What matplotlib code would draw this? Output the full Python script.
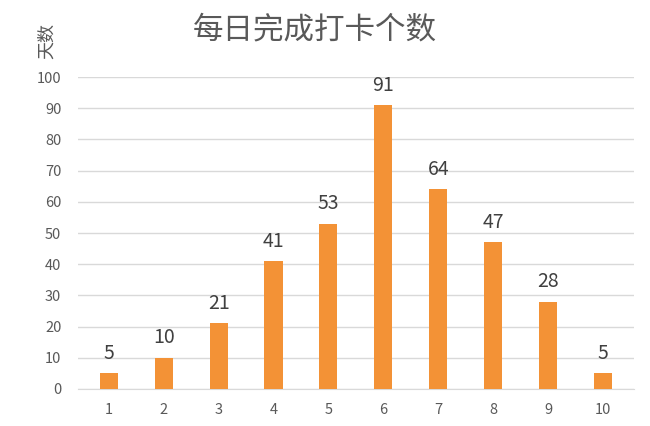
import matplotlib.pyplot as plt

plt.rcParams['font.family'] = ['Noto Sans CJK SC', 'DejaVu Sans']

days = ['1', '2', '3', '4', '5', '6', '7', '8', '9', '10']
counts = [5, 10, 21, 41, 53, 91, 64, 47, 28, 5]
y_ticks = list(range(0, 101, 10))

fig = plt.figure(figsize=(6.5, 4.26), dpi=100)
ax = fig.add_axes([0.12, 0.087, 0.855, 0.732])

x = list(range(1, len(days) + 1))
bars = ax.bar(x, counts, width=0.33, color='#F39236', zorder=3)

for xi, v in zip(x, counts):
    ax.text(xi, v + 3, str(v), ha='center', va='bottom', fontsize=14, color='#404040')

ax.set_xlim(0.44, 10.56)
ax.set_ylim(0, 100)
ax.set_yticks(y_ticks)
ax.set_xticks(x)
ax.set_xticklabels(days)
ax.tick_params(length=0, labelsize=10.5, labelcolor='#595959')
ax.tick_params(axis='y', pad=12)
ax.tick_params(axis='x', pad=10)

ax.grid(axis='y', color='#D9D9D9', linewidth=1, zorder=0)
for s in ['top', 'right', 'left']:
    ax.spines[s].set_visible(False)
ax.spines['bottom'].set_color('#D9D9D9')

fig.text(0.485, 0.93, '每日完成打卡个数', ha='center', va='center', fontsize=22, color='#595959')
fig.text(0.072, 0.904, '天数', ha='center', va='center', rotation=90, fontsize=13, color='#595959')

fig.savefig('out.png', dpi=100)
